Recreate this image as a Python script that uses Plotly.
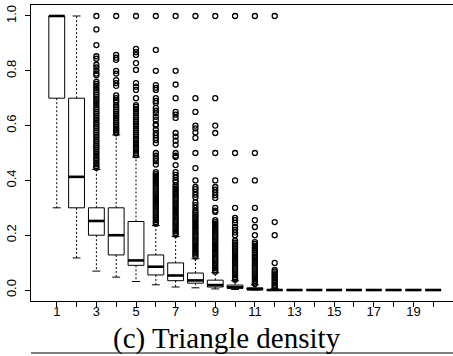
import plotly.graph_objects as go

# ---- data ----
categories = list(range(1, 21))
lower_whisker = [0.30, 0.117, 0.069, 0.047, 0.031, 0.019, 0.011, 0.008, 0.004, 0.002, 0.0, 0.0] + [0.0] * 8
q1 = [0.70, 0.30, 0.20, 0.128, 0.090, 0.055, 0.034, 0.025, 0.011, 0.006, 0.001, 0.0] + [0.0] * 8
median = [1.00, 0.413, 0.252, 0.20, 0.108, 0.085, 0.053, 0.035, 0.018, 0.010, 0.003, 0.0] + [0.0] * 8
q3 = [1.00, 0.70, 0.30, 0.30, 0.250, 0.128, 0.099, 0.062, 0.036, 0.018, 0.008, 0.002] + [0.0] * 8
upper_whisker = [1.00, 1.00, 0.44, 0.566, 0.485, 0.235, 0.195, 0.114, 0.063, 0.034, 0.019, 0.005] + [0.0] * 8

out3 = [1.0, 0.951, 0.894, 0.853, 0.844, 0.822, 0.812, 0.80, 0.79, 0.784, 0.76, 0.752, 0.745,
        0.737, 0.73, 0.722, 0.713, 0.706, 0.698, 0.69, 0.683, 0.675, 0.667, 0.66, 0.651, 0.644,
        0.636, 0.628, 0.62, 0.612, 0.605, 0.597, 0.59, 0.582, 0.574, 0.566, 0.558, 0.55, 0.543,
        0.535, 0.527, 0.52, 0.512, 0.504, 0.497, 0.489, 0.481, 0.474, 0.466, 0.459, 0.452, 0.446]
out4 = [1.0, 0.858, 0.848, 0.84, 0.80, 0.79, 0.766, 0.755, 0.745, 0.71, 0.70, 0.692, 0.686,
        0.675, 0.667, 0.659, 0.651, 0.643, 0.636, 0.628, 0.62, 0.612, 0.604, 0.597, 0.59,
        0.584, 0.578, 0.572]
out5 = [1.0, 0.88, 0.868, 0.858, 0.828, 0.803, 0.755, 0.742, 0.73, 0.70, 0.675, 0.668, 0.66,
        0.652, 0.645, 0.637, 0.63, 0.622, 0.614, 0.606, 0.598, 0.59, 0.583, 0.575, 0.567, 0.56,
        0.552, 0.545, 0.537, 0.529, 0.521, 0.514, 0.506, 0.499, 0.492]
out6 = [1.0, 0.876, 0.80, 0.748, 0.738, 0.73, 0.70, 0.69, 0.683, 0.665, 0.655, 0.645, 0.632,
        0.62, 0.605, 0.60, 0.585, 0.573, 0.565, 0.555, 0.547, 0.536, 0.50, 0.49, 0.48, 0.47,
        0.458, 0.43, 0.423, 0.416, 0.409, 0.402, 0.395, 0.388, 0.381, 0.374, 0.367, 0.36,
        0.353, 0.346, 0.339, 0.332, 0.325, 0.318, 0.311, 0.304, 0.297, 0.29, 0.283, 0.276,
        0.269, 0.262, 0.255, 0.248, 0.242]
out7 = [1.0, 0.80, 0.75, 0.70, 0.65, 0.64, 0.628, 0.573, 0.56, 0.545, 0.53, 0.50, 0.49, 0.485,
        0.456, 0.43, 0.42, 0.41, 0.40, 0.394, 0.383, 0.376, 0.369, 0.362, 0.355, 0.348, 0.341,
        0.334, 0.327, 0.32, 0.313, 0.306, 0.299, 0.292, 0.285, 0.278, 0.271, 0.264, 0.257,
        0.25, 0.243, 0.236, 0.229, 0.222, 0.215, 0.208, 0.202]
out8 = [1.0, 0.70, 0.65, 0.60, 0.59, 0.575, 0.555, 0.50, 0.445, 0.40, 0.376, 0.368, 0.358,
        0.348, 0.338, 0.32, 0.31, 0.30, 0.29, 0.283, 0.276, 0.269, 0.262, 0.255, 0.248, 0.241,
        0.234, 0.227, 0.22, 0.213, 0.206, 0.199, 0.192, 0.185, 0.178, 0.171, 0.164, 0.157,
        0.15, 0.143, 0.136, 0.129, 0.122]
out9 = [1.0, 0.70, 0.60, 0.573, 0.50, 0.40, 0.376, 0.366, 0.356, 0.346, 0.336, 0.30, 0.29,
        0.285, 0.255, 0.248, 0.241, 0.234, 0.227, 0.22, 0.213, 0.206, 0.199, 0.192, 0.185,
        0.178, 0.171, 0.164, 0.157, 0.15, 0.143, 0.136, 0.129, 0.122, 0.115, 0.108, 0.101,
        0.094, 0.087, 0.08, 0.073, 0.067]
out10 = [1.0, 0.50, 0.40, 0.30, 0.263, 0.255, 0.245, 0.23, 0.22, 0.21, 0.20, 0.18, 0.173,
         0.166, 0.159, 0.152, 0.145, 0.138, 0.131, 0.124, 0.117, 0.11, 0.103, 0.096, 0.089,
         0.082, 0.075, 0.068, 0.061, 0.054, 0.047, 0.041, 0.037]
out11 = [1.0, 0.50, 0.40, 0.30, 0.255, 0.23, 0.20, 0.175, 0.168, 0.16, 0.153, 0.146, 0.138,
         0.13, 0.123, 0.117, 0.11, 0.103, 0.096, 0.089, 0.082, 0.075, 0.068, 0.061, 0.054,
         0.047, 0.04, 0.033, 0.027, 0.022]
out12 = [1.0, 0.248, 0.20, 0.099, 0.073, 0.067, 0.061, 0.055, 0.049, 0.043, 0.037, 0.031,
         0.025, 0.019, 0.014, 0.009]
outliers = {3: out3, 4: out4, 5: out5, 6: out6, 7: out7, 8: out8, 9: out9,
            10: out10, 11: out11, 12: out12}

y_tick_values = [0.0, 0.2, 0.4, 0.6, 0.8, 1.0]
x_tick_labels = [str(c) if c % 2 == 1 else "" for c in categories]

HALF = 0.4
CAP = 0.2

fig = go.Figure()

# outliers
for k, vals in outliers.items():
    fig.add_trace(go.Scatter(
        x=[k] * len(vals), y=vals, mode="markers",
        marker=dict(symbol="circle-open", size=5, color="black", line=dict(width=1.3, color="black")),
        showlegend=False, hoverinfo="skip"))

# whiskers (dashed)
wx, wy = [], []
for k, lw, a, b, uw in zip(categories, lower_whisker, q1, q3, upper_whisker):
    if uw > b:
        wx += [k, k, None]; wy += [b, uw, None]
    if lw < a:
        wx += [k, k, None]; wy += [a, lw, None]
fig.add_trace(go.Scatter(x=wx, y=wy, mode="lines",
                         line=dict(color="black", width=1, dash="2px,2px"),
                         showlegend=False, hoverinfo="skip"))

# staples
sx, sy = [], []
for k, lw, uw in zip(categories, lower_whisker, upper_whisker):
    sx += [k - CAP, k + CAP, None, k - CAP, k + CAP, None]
    sy += [uw, uw, None, lw, lw, None]
fig.add_trace(go.Scatter(x=sx, y=sy, mode="lines", line=dict(color="black", width=1),
                         showlegend=False, hoverinfo="skip"))

# boxes
bx, by = [], []
for k, a, b in zip(categories, q1, q3):
    bx += [k - HALF, k + HALF, k + HALF, k - HALF, k - HALF, None]
    by += [a, a, b, b, a, None]
fig.add_trace(go.Scatter(x=bx, y=by, mode="lines", line=dict(color="black", width=1),
                         showlegend=False, hoverinfo="skip"))

# medians
mx, my = [], []
for k, m in zip(categories, median):
    mx += [k - HALF, k + HALF, None]
    my += [m, m, None]
fig.add_trace(go.Scatter(x=mx, y=my, mode="lines", line=dict(color="black", width=2.6),
                         showlegend=False, hoverinfo="skip"))

fig.update_layout(
    width=453, height=356,
    margin=dict(l=31, r=0, t=5, b=55),
    paper_bgcolor="white", plot_bgcolor="white",
    font=dict(family="Liberation Sans", size=13, color="black"),
    xaxis=dict(range=[-0.3, 21.0], tickmode="array", tickvals=categories, ticktext=x_tick_labels,
               ticks="outside", ticklen=5, tickwidth=1, tickcolor="black",
               showline=True, linecolor="black", linewidth=1, mirror=True,
               showgrid=False, zeroline=False, ticklabelstandoff=-7),
    yaxis=dict(range=[-0.0401, 1.0401], tickmode="array", tickvals=y_tick_values,
               tickformat=".1f", tickangle=-90,
               ticks="outside", ticklen=5, tickwidth=1, tickcolor="black",
               showline=True, linecolor="black", linewidth=1, mirror=False,
               showgrid=False, zeroline=False, ticklabelstandoff=4),
    annotations=[dict(text="(c) Triangle density", xref="paper", yref="paper",
                      x=0.4645, y=-0.128, xanchor="center", yanchor="middle",
                      showarrow=False,
                      font=dict(family="Liberation Serif", size=29, color="black"))],
    shapes=[dict(type="line", xref="paper", yref="paper", x0=0, x1=1.0,
                 y0=-0.1757, y1=-0.1757, line=dict(color="black", width=1))],
)

fig.write_html("out.html")
